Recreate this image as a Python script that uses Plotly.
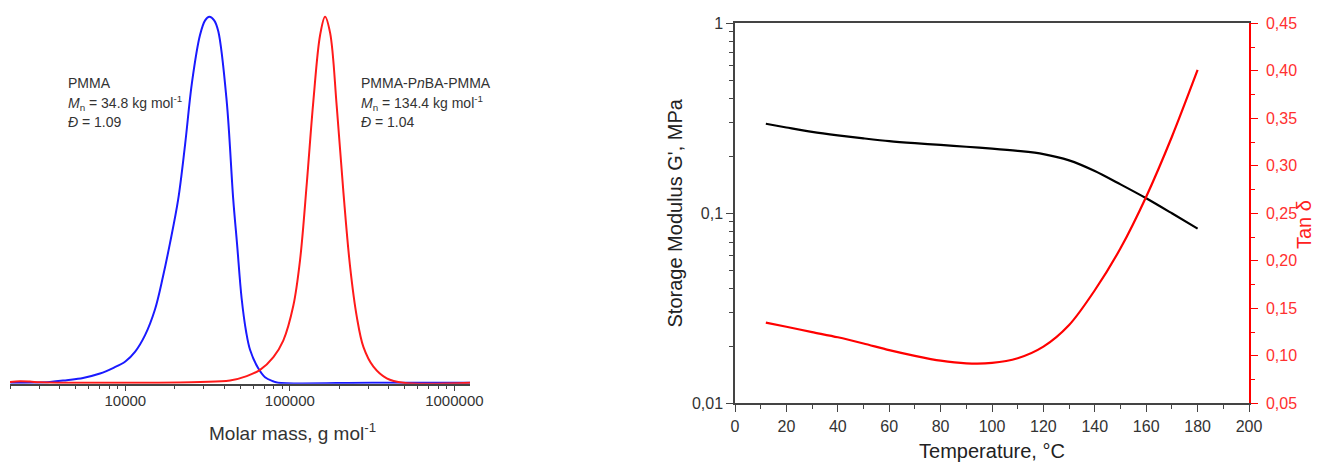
import plotly.graph_objects as go

# ---------------- Left panel: SEC traces (normalised signal vs molar mass) ----------------
pmma_mass = [2000, 3480, 4410, 5530, 7015, 8414, 10000, 11480, 13180, 15140, 16940, 18660,
             20940, 23070, 25410, 28440, 30550, 32430, 34670, 36730, 41300, 45290, 47750,
             50930, 54200, 57280, 64120, 70630, 79070, 84720, 316200, 1245000]
pmma_signal = [0.0, 0.002, 0.007, 0.013, 0.025, 0.04, 0.058, 0.085, 0.13, 0.2, 0.29, 0.38,
               0.5, 0.65, 0.82, 0.95, 0.99, 1.0, 0.99, 0.96, 0.77, 0.5, 0.38,
               0.23, 0.14, 0.09, 0.04, 0.015, 0.004, 0.0, 0.0, 0.0]

tri_mass = [1990, 2291, 2630, 3027, 4009, 14130, 28440, 43250, 54700, 65920, 79430, 91200,
            104950, 115330, 126770, 139000, 152760, 163680, 175790, 192750, 211840, 232270,
            255270, 279900, 322100, 388150, 489780, 1245000]
tri_signal = [0.002, 0.004, 0.003, 0.001, 0.0, 0.0, 0.002, 0.006, 0.018, 0.035, 0.07, 0.115,
              0.21, 0.335, 0.545, 0.77, 0.95, 1.0, 0.955, 0.755, 0.518, 0.318,
              0.18, 0.098, 0.044, 0.012, 0.0, 0.0]

mass_ticks = [10000, 100000, 1000000]
mass_tick_text = ["10000", "100000", "1000000"]

# ---------------- Right panel: DMA ----------------
temperature = [12, 20, 30, 40, 50, 60, 70, 80, 90, 100, 110, 120, 130, 140, 150, 160, 170, 180]
storage_modulus = [0.296, 0.283, 0.268, 0.257, 0.248, 0.240, 0.234, 0.229, 0.224, 0.219, 0.213,
                   0.205, 0.190, 0.167, 0.142, 0.120, 0.100, 0.083]
tan_delta = [0.135, 0.1306, 0.125, 0.1195, 0.113, 0.106, 0.100, 0.0949, 0.0921, 0.0925, 0.0974,
             0.1096, 0.1324, 0.169, 0.2132, 0.2675, 0.3306, 0.4009]

g_ticks = [0.01, 0.1, 1]
g_tick_text = ["0,01", "0,1", "1"]
tan_ticks = [0.05, 0.10, 0.15, 0.20, 0.25, 0.30, 0.35, 0.40, 0.45]
tan_tick_text = ["0,05", "0,10", "0,15", "0,20", "0,25", "0,30", "0,35", "0,40", "0,45"]

FONT = "Liberation Sans, Arial, sans-serif"
OFF = 8                      # page body margin in the browser
W, H = 1322 - OFF, 465 - OFF
AX = "#444444"

fig = go.Figure()

fig.add_trace(go.Scatter(x=pmma_mass, y=pmma_signal, mode="lines", xaxis="x", yaxis="y",
                         line=dict(color="#1a1aff", width=2, shape="spline", smoothing=1.0),
                         showlegend=False, hoverinfo="skip"))
fig.add_trace(go.Scatter(x=tri_mass, y=tri_signal, mode="lines", xaxis="x", yaxis="y",
                         line=dict(color="#ff1a1a", width=2, shape="spline", smoothing=1.0),
                         showlegend=False, hoverinfo="skip"))

fig.add_trace(go.Scatter(x=temperature, y=storage_modulus, mode="lines", xaxis="x2", yaxis="y2",
                         line=dict(color="#000000", width=2.2, shape="spline", smoothing=0.8),
                         showlegend=False, hoverinfo="skip"))
fig.add_trace(go.Scatter(x=temperature, y=tan_delta, mode="lines", xaxis="x2", yaxis="y3",
                         line=dict(color="#ff0000", width=2.2, shape="spline", smoothing=0.8),
                         showlegend=False, hoverinfo="skip"))

def px_x(p):
    return (p - OFF) / W

def px_y(p):
    return 1 - (p - OFF) / H

minor_mass = [m * 10 ** e for e in (3, 4, 5) for m in range(2, 10)]

fig.update_layout(
    width=W, height=H,
    margin=dict(l=0, r=0, t=0, b=0, autoexpand=False),
    paper_bgcolor="white", plot_bgcolor="white",
    font=dict(family=FONT, color="#222222"),
    xaxis=dict(
        type="log", domain=[px_x(10), px_x(470)], range=[3.299, 6.095], anchor="y",
        tickvals=mass_ticks, ticktext=mass_tick_text, ticks="outside", ticklen=5, tickwidth=1.2,
        tickcolor=AX, showline=True, linecolor=AX, linewidth=1.5, showgrid=False, zeroline=False,
        tickfont=dict(size=15, color="#333333"), ticklabelstandoff=-3,
        minor=dict(tickvals=minor_mass, ticks="outside", ticklen=3, tickcolor=AX, showgrid=False),
    ),
    yaxis=dict(
        domain=[px_y(383.8), px_y(13.0)], range=[-0.003, 1.01], visible=False, anchor="x",
    ),
    xaxis2=dict(
        domain=[px_x(735), px_x(1249)], range=[0, 200], anchor="y2",
        tickvals=list(range(0, 201, 20)), ticks="outside", ticklen=7, tickwidth=1.2, tickcolor=AX,
        showline=True, linecolor=AX, linewidth=1.5, mirror=True, showgrid=False, zeroline=False,
        tickfont=dict(size=16, color="#333333"), ticklabelstandoff=1,
        minor=dict(dtick=10, ticks="outside", ticklen=4, tickcolor=AX, showgrid=False),
        title=dict(text="Temperature, °C", font=dict(size=20, color="#222222"), standoff=10),
    ),
    yaxis2=dict(
        type="log", domain=[px_y(403.3), px_y(23.3)], range=[-2, 0], anchor="x2",
        tickvals=g_ticks, ticktext=g_tick_text, ticks="outside", ticklen=7, tickwidth=1.2,
        tickcolor=AX, showline=True, linecolor=AX, linewidth=1.5, showgrid=False, zeroline=False,
        tickfont=dict(size=16, color="#333333"),
        minor=dict(tickvals=[m * 10 ** e for e in (-2, -1) for m in range(2, 10)],
                   ticks="outside", ticklen=4, tickcolor=AX, showgrid=False),
        title=dict(text="Storage Modulus G', MPa", font=dict(size=20, color="#222222"), standoff=4),
    ),
    yaxis3=dict(
        overlaying="y2", side="right", anchor="x2", range=[0.05, 0.45],
        tickvals=tan_ticks, ticktext=tan_tick_text, ticks="outside", ticklen=7, tickwidth=1.2,
        tickcolor="#ff0000", showline=True, linecolor="#ff0000", linewidth=1.5,
        showgrid=False, zeroline=False, tickfont=dict(size=16, color="#ff3030"),
        ticklabelstandoff=5,
        minor=dict(dtick=0.025, ticks="outside", ticklen=4, tickcolor="#ff0000", showgrid=False),
    ),
)

# axis titles placed where the reference shows them
fig.add_annotation(x=px_x(292), y=px_y(432), xref="paper", yref="paper",
                   text="Molar mass, g mol<sup>-1</sup>", showarrow=False,
                   xanchor="center", yanchor="middle",
                   font=dict(family=FONT, size=19, color="#333333"))
fig.add_annotation(x=px_x(1304), y=px_y(225), xref="paper", yref="paper",
                   text="Tan δ", showarrow=False, textangle=-90,
                   xanchor="center", yanchor="middle",
                   font=dict(family=FONT, size=20, color="#ff2020"))

ann_font = dict(family=FONT, size=14, color="#333333")
left_lines = ["PMMA", "<i>M</i><sub>n</sub> = 34.8 kg mol<sup>-1</sup>", "<i>Đ</i> = 1.09"]
right_lines = ["PMMA-P<i>n</i>BA-PMMA", "<i>M</i><sub>n</sub> = 134.4 kg mol<sup>-1</sup>", "<i>Đ</i> = 1.04"]
for i, (lt, rt) in enumerate(zip(left_lines, right_lines)):
    yp = px_y(83 + 19.5 * i)
    fig.add_annotation(x=px_x(66), y=yp, xref="paper", yref="paper", text=lt, showarrow=False,
                       xanchor="left", yanchor="middle", font=ann_font)
    fig.add_annotation(x=px_x(359), y=yp, xref="paper", yref="paper", text=rt, showarrow=False,
                       xanchor="left", yanchor="middle", font=ann_font)

fig.write_html("out.html")
